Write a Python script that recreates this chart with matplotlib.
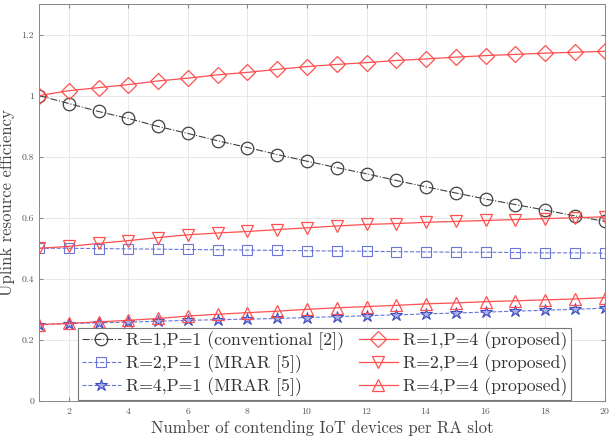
import matplotlib
matplotlib.use("Agg")
from matplotlib import pyplot as plt
import numpy as np

plt.rcParams['font.family'] = ['cmr10', 'DejaVu Serif']
plt.rcParams['axes.formatter.use_mathtext'] = True
plt.rcParams['mathtext.fontset'] = 'cm'

# number of contending IoT devices per RA slot
n_devices = np.arange(1, 21)

eff_r1p1 = [1.0, 0.974, 0.948, 0.925, 0.899, 0.876, 0.852, 0.830, 0.807, 0.785,
            0.764, 0.744, 0.722, 0.701, 0.681, 0.661, 0.643, 0.625, 0.606, 0.588]
eff_r2p1 = [0.500, 0.500, 0.499, 0.498, 0.497, 0.496, 0.495, 0.494, 0.493, 0.492,
            0.491, 0.490, 0.489, 0.488, 0.487, 0.487, 0.486, 0.485, 0.485, 0.484]
eff_r4p1 = [0.250, 0.253, 0.256, 0.258, 0.261, 0.264, 0.266, 0.268, 0.270, 0.273,
            0.276, 0.279, 0.282, 0.285, 0.288, 0.291, 0.294, 0.297, 0.300, 0.304]
eff_r1p4 = [1.0, 1.016, 1.026, 1.036, 1.048, 1.057, 1.068, 1.076, 1.086, 1.095,
            1.102, 1.108, 1.115, 1.120, 1.126, 1.131, 1.135, 1.139, 1.142, 1.145]
eff_r2p4 = [0.500, 0.506, 0.516, 0.525, 0.535, 0.544, 0.550, 0.555, 0.561, 0.567,
            0.573, 0.578, 0.581, 0.585, 0.588, 0.591, 0.594, 0.597, 0.600, 0.603]
eff_r4p4 = [0.250, 0.254, 0.259, 0.264, 0.270, 0.278, 0.284, 0.289, 0.294, 0.300,
            0.305, 0.309, 0.313, 0.318, 0.321, 0.325, 0.328, 0.331, 0.334, 0.338]

labels = ['R=1,P=1 (conventional [2])', 'R=2,P=1 (MRAR [5])', 'R=4,P=1 (MRAR [5])',
          'R=1,P=4 (proposed)', 'R=2,P=4 (proposed)', 'R=4,P=4 (proposed)']

black = '#404040'
blue = '#6a76d6'
red = '#ff4f4f'

fig = plt.figure(figsize=(6.14, 4.44), dpi=100)
ax = fig.add_axes([0.0635, 0.097, 0.9215, 0.894])

ax.plot(n_devices, eff_r1p1, '-.', color=black, lw=0.8, marker='o', ms=9,
        mfc='none', mec=black, mew=0.9, label=labels[0])
ax.plot(n_devices, eff_r2p1, '--', color=blue, lw=0.8, marker='s', ms=6.5,
        mfc='none', mec=blue, mew=0.8, label=labels[1])
ax.plot(n_devices, eff_r4p1, '--', color=blue, lw=0.8, marker='*', ms=9,
        mfc='#aab0ea', mec='#3d4bc0', mew=0.8, label=labels[2])
ax.plot(n_devices, eff_r1p4, '-', color=red, lw=0.9, marker='D', ms=8,
        mfc='none', mec=red, mew=0.9, label=labels[3])
ax.plot(n_devices, eff_r2p4, '-', color=red, lw=0.9, marker='v', ms=9,
        mfc='none', mec=red, mew=0.9, label=labels[4])
ax.plot(n_devices, eff_r4p4, '-', color=red, lw=0.9, marker='^', ms=9,
        mfc='none', mec=red, mew=0.9, label=labels[5])

ax.set_xlim(1, 20)
ax.set_ylim(0, 1.3)
ax.set_xticks(np.arange(2, 21, 2))
ax.set_yticks([0, 0.2, 0.4, 0.6, 0.8, 1.0, 1.2])
ax.set_yticklabels(['0', '0.2', '0.4', '0.6', '0.8', '1', '1.2'])
ax.grid(True, color='#e4e4e4', lw=0.6)
ax.set_axisbelow(True)
ax.tick_params(direction='in', top=True, right=True, labelsize=7,
               labelcolor='#555555', color='#888888', length=3)
for s in ax.spines.values():
    s.set_color('#888888')
    s.set_linewidth(0.7)

ax.set_xlabel('Number of contending IoT devices per RA slot', fontsize=12,
              color='#444444', labelpad=3)
ax.set_ylabel('Uplink resource efficiency', fontsize=12, color='#444444', labelpad=5)

leg = ax.legend(ncol=2, loc='lower left', bbox_to_anchor=(0.068, 0.0), fontsize=12.8,
                frameon=True, fancybox=False, edgecolor='#777777', framealpha=1,
                borderpad=0.2, labelspacing=0.25, handlelength=2.2, handletextpad=0.3,
                columnspacing=0.8, borderaxespad=0.05)
leg.get_frame().set_linewidth(0.8)
for t in leg.get_texts():
    t.set_color('#333333')

fig.savefig('out.png', dpi=100)
